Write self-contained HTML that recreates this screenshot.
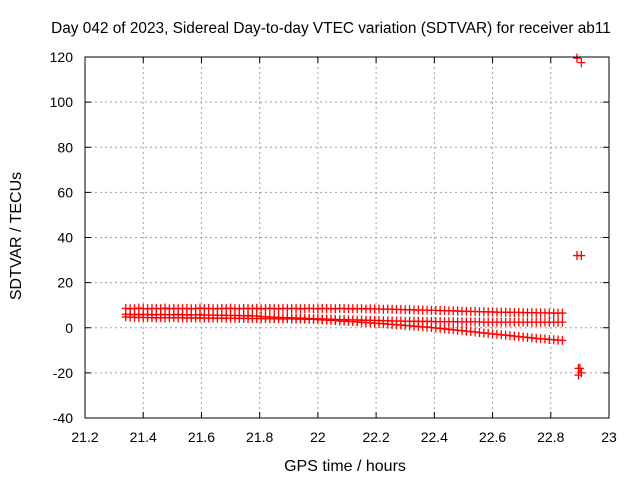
<!DOCTYPE html>
<html><head><meta charset="utf-8"><style>
body{margin:0;background:#fff;}
svg text{font-family:"Liberation Sans",sans-serif;font-size:14px;fill:#000;}
</style></head><body>
<svg id="chart" width="640" height="480">
<rect width="640" height="480" fill="#fff"/>
<text x="331" y="33" text-anchor="middle" style="font-size:15.4px">Day 042 of 2023, Sidereal Day-to-day VTEC variation (SDTVAR) for receiver ab11</text>
<text x="345" y="471" text-anchor="middle" style="font-size:16px">GPS time / hours</text>
<text transform="translate(21,236) rotate(-90)" text-anchor="middle" style="font-size:16px">SDTVAR / TECUs</text>
<g id="grid"></g><g id="ticks"></g><g id="marks"></g>
<rect x="85" y="57" width="524" height="361" fill="none" stroke="#000" stroke-width="1"/>
</svg>
<script>
const xTicks=[21.2,21.4,21.6,21.8,22,22.2,22.4,22.6,22.8,23];
const xTickLabels=["21.2","21.4","21.6","21.8","22","22.2","22.4","22.6","22.8","23"];
const yTicks=[-40,-20,0,20,40,60,80,100,120];
const xStart=21.34, xStep=0.015;
const trackA=[8.6,8.4,8.5,8.7,8.5,8.4,8.6,8.5,8.5,8.7,8.4,8.6,8.5,8.5,8.6,8.4,8.5,8.7,8.5,8.6,8.5,8.4,8.6,8.5,8.7,8.5,8.4,8.6,8.5,8.5,8.6,8.4,8.5,8.6,8.5,8.4,8.6,8.5,8.5,8.6,8.4,8.5,8.6,8.5,8.4,8.6,8.5,8.5,8.4,8.6,8.5,8.4,8.5,8.4,8.5,8.3,8.4,8.3,
8.3,8.2,8.3,8.2,8.1,8.1,8.0,8.0,7.9,7.9,7.8,7.8,7.7,7.7,7.6,7.6,7.5,7.5,7.4,7.3,7.3,7.2,7.2,7.1,7.1,7.0,7.0,6.9,6.9,6.9,6.8,6.8,6.8,6.7,6.7,6.7,6.6,6.6,6.6,6.5,6.5,6.5,6.5];
const trackB=[6.0,5.9,5.8,6.0,5.8,5.9,5.7,5.8,5.9,5.8,5.7,5.8,5.9,5.7,5.8,5.6,5.7,5.8,5.6,5.7,5.6,5.5,5.6,5.5,5.4,5.5,5.4,5.3,5.4,5.2,5.2,
5.0,4.9,4.8,4.7,4.6,4.5,4.5,4.4,4.3,4.3,4.2,4.1,4.0,4.0,3.9,3.8,3.8,3.7,3.6,3.6,3.5,3.5,3.4,3.4,3.3,3.3,3.2,
3.2,3.1,3.1,3.0,3.0,3.0,2.9,2.9,2.9,2.8,2.8,2.8,2.8,2.7,2.7,2.7,2.7,2.7,2.6,2.6,2.6,2.6,2.6,2.6,2.5,2.5,2.5,2.5,2.5,2.5,2.5,2.5,2.5,2.5,2.5,2.5,2.5,2.5,2.5,2.5,2.5,2.5,2.5];
const trackC=[4.8,4.7,4.6,4.5,4.6,4.5,4.5,4.4,4.5,4.4,4.4,4.5,4.4,4.4,4.3,4.4,4.3,4.4,4.3,4.3,4.3,4.2,4.3,4.2,4.2,4.2,4.1,4.2,4.1,4.1,4.1,4.0,4.1,4.0,4.0,4.0,3.9,4.0,3.9,3.9,3.8,3.8,3.7,3.7,3.6,
3.5,3.4,3.3,3.2,3.0,2.9,2.8,2.7,2.6,2.4,2.3,2.2,2.0,1.9,1.8,1.6,1.5,1.3,1.2,1.0,
0.9,0.7,0.6,0.4,0.3,0.1,-0.1,-0.3,-0.5,-0.7,-0.9,-1.1,-1.3,-1.5,-1.7,-1.9,-2.1,-2.3,-2.5,-2.7,-2.9,-3.1,-3.3,-3.5,-3.7,-3.9,-4.1,-4.3,-4.5,-4.7,-4.9,-5.0,-5.2,-5.3,-5.5,-5.6];
const outX=[22.89,22.905,22.89,22.905,22.895,22.905,22.895,22.9];
const outY=[119.5,117.5,32,32,-18,-20,-21,-18];
const NS="http://www.w3.org/2000/svg";
const X0=85,X1=609,Y0=418,Y1=57;
function sx(v){return X0+(v-21.2)/(23-21.2)*(X1-X0);}
function sy(v){return Y0-(v+40)/160*(Y0-Y1);}
const grid=document.getElementById('grid'),ticks=document.getElementById('ticks'),marks=document.getElementById('marks');
function mk(tag,attrs,parent){const e=document.createElementNS(NS,tag);for(const k in attrs)e.setAttribute(k,attrs[k]);parent.appendChild(e);return e;}
xTicks.forEach((t,i)=>{
  const x=sx(t);
  if(i>0&&i<xTicks.length-1){const g=mk('line',{x1:x,x2:x,y1:Y1,y2:Y0,stroke:'#a0a0a0','stroke-dasharray':'2,3'},grid);
  
  }
  mk('line',{x1:x,x2:x,y1:Y0,y2:Y0-6,stroke:'#000'},ticks);
  mk('line',{x1:x,x2:x,y1:Y1,y2:Y1+6,stroke:'#000'},ticks);
  const tx=mk('text',{x:x,y:Y0+24,'text-anchor':'middle'},ticks);tx.textContent=xTickLabels[i];
  
  
});
yTicks.forEach((t,i)=>{
  const y=sy(t);
  if(i>0&&i<yTicks.length-1){const g=mk('line',{x1:X0,x2:X1,y1:y,y2:y,stroke:'#a0a0a0','stroke-dasharray':'2,3'},grid);
  
  }
  mk('line',{x1:X0,x2:X0+6,y1:y,y2:y,stroke:'#000'},ticks);
  mk('line',{x1:X1,x2:X1-6,y1:y,y2:y,stroke:'#000'},ticks);
  const tx=mk('text',{x:X0-12,y:y+5,'text-anchor':'end'},ticks);tx.textContent=String(t);
  
  
});
function plus(x,y,name){
  const p=mk('path',{d:`M${x-4},${y}h8M${x},${y-4.5}v9`,stroke:'#f00','stroke-width':1.3,fill:'none'},marks);
  
  
}
[trackA,trackB,trackC].forEach((tr,k)=>{
  tr.forEach((v,i)=>plus(sx(xStart+i*xStep),sy(v),'point-track-'+(k+1)));
});
outX.forEach((v,i)=>plus(sx(v),sy(outY[i]),'outlier-point'));
</script>
</body></html>
